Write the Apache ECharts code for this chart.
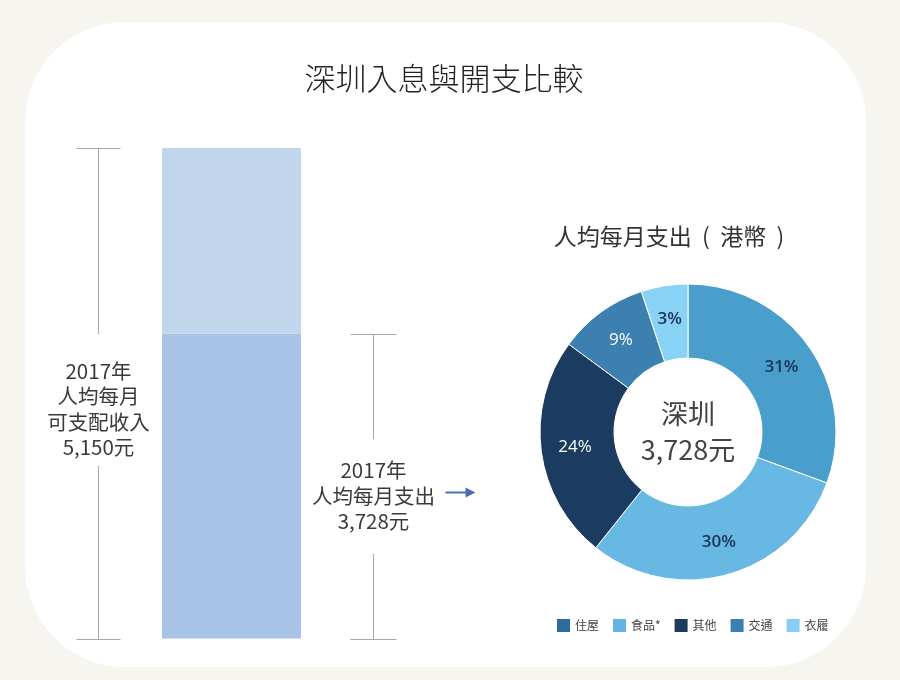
<!DOCTYPE html>
<html>
<head>
<meta charset="utf-8">
<script src="https://cdn.jsdelivr.net/npm/echarts@6/dist/echarts.min.js"></script>
<style>
html,body{margin:0;padding:0;background:#f7f5f0;}
#chart{width:900px;height:680px;}
</style>
</head>
<body>
<div id="chart"></div>
<script>
// ---------- data ----------
const barCategories = ['2017年'];
const monthlyIncome = [5150];        // 人均每月可支配收入
const monthlyExpenditure = [3728];   // 人均每月支出
const incomeLabelLines = ['2017年', '人均每月', '可支配收入'];
const expLabelLines = ['2017年', '人均每月支出'];

const pieNames = ['住屋', '食品*', '其他', '交通', '衣履'];
const pieShares = [30.6, 30.1, 24.4, 9.8, 5.1];        // slice sizes
const pieLabels = ['31%', '30%', '24%', '9%', '3%'];   // printed labels
const centerCity = '深圳';

const titleText = '深圳入息與開支比較';
const subTitleText = '人均每月支出  (  港幣  )';

// ---------- styles ----------
const pieColors = ['#4a9ecb', '#67b8e3', '#1b3b60', '#3b80b0', '#88d2f6'];
const legendColors = ['#2f6c9b', '#63b4e0', '#1b3a5c', '#3a80b0', '#87cef2'];
const pieLabelColors = ['#1b3358', '#1b3358', '#ffffff', '#ffffff', '#1b3358'];
const pieLabelWeights = [600, 600, 'normal', 'normal', 600];
const cjk = "'Noto Sans CJK TC', 'Noto Sans', sans-serif";
const axisMin = 1390;

const fmt = v => v.toLocaleString('en-US') + '元';
const remainder = monthlyIncome.map((v, i) => v - monthlyExpenditure[i]);

const bracketCfg = [
  { dx: -133.5, half: 22, textDy: 15, gapTop: 75, gapBot: 57,
    lines: incomeLabelLines.concat([fmt(monthlyIncome[0])]), arrow: false },
  { dx: 141.5, half: 23, textDy: 9, gapTop: 57, gapBot: 58,
    lines: expLabelLines.concat([fmt(monthlyExpenditure[0])]), arrow: true }
];

function renderBracket(params, api) {
  const cfg = bracketCfg[params.dataIndex];
  const top = api.coord([api.value(0), api.value(1)]);
  const base = api.coord([api.value(0), axisMin]);
  const x = Math.round(top[0] + cfg.dx) + 0.5;
  const y0 = Math.round(top[1]) + 0.5, y1 = Math.round(base[1]) + 0.5;
  const tc = (y0 + y1) / 2 + cfg.textDy;
  const ls = { stroke: '#a8a8a8', lineWidth: 1 };
  const children = [
    { type: 'line', shape: { x1: x - cfg.half, y1: y0, x2: x + cfg.half, y2: y0 }, style: ls },
    { type: 'line', shape: { x1: x, y1: y0, x2: x, y2: tc - cfg.gapTop }, style: ls },
    { type: 'line', shape: { x1: x, y1: tc + cfg.gapBot, x2: x, y2: y1 }, style: ls },
    { type: 'line', shape: { x1: x - cfg.half, y1: y1, x2: x + cfg.half, y2: y1 }, style: ls },
    { type: 'text', style: { text: cfg.lines.join('\n'), x: x, y: tc, align: 'center',
        verticalAlign: 'middle', fontSize: 20.5, lineHeight: 25.5, fontFamily: cjk, fill: '#3a3a3a' } }
  ];
  if (cfg.arrow) {
    const ay = Math.round(tc - 4) + 0.5;
    children.push({ type: 'line', shape: { x1: x + 72, y1: ay, x2: x + 94, y2: ay },
      style: { stroke: '#4a6db3', lineWidth: 2 } });
    children.push({ type: 'polygon', shape: { points: [[x + 92, ay - 5], [x + 102, ay], [x + 92, ay + 5]] },
      style: { fill: '#4a6db3' } });
  }
  return { type: 'group', children: children };
}

const chart = echarts.init(document.getElementById('chart'), null, { renderer: 'canvas' });
chart.setOption({
  backgroundColor: '#f7f5f0',
  animation: false,
  graphic: [
    { type: 'rect', z: -10, shape: { x: 25, y: 22, width: 841, height: 645, r: 100 },
      style: { fill: '#ffffff' } },
    { type: 'text', z: 10, style: { text: centerCity, x: 688, y: 414, align: 'center', verticalAlign: 'middle',
        fontSize: 27, fontFamily: cjk, fill: '#444' } },
    { type: 'text', z: 10, style: { text: fmt(monthlyExpenditure[0]), x: 688, y: 450, align: 'center',
        verticalAlign: 'middle', fontSize: 27, fontFamily: cjk, fill: '#444' } }
  ],
  title: [
    { text: titleText, left: 439, top: 58, textAlign: 'center',
      textStyle: { fontSize: 31, fontWeight: 300, color: '#222', fontFamily: cjk } },
    { text: subTitleText, left: 664, top: 220, textAlign: 'center',
      textStyle: { fontSize: 23, fontWeight: 'normal', color: '#333', fontFamily: cjk } }
  ],
  grid: { left: 162, width: 139, top: 148, height: 490.5 },
  xAxis: { type: 'category', data: barCategories, show: false },
  yAxis: { type: 'value', min: axisMin, max: monthlyIncome[0], show: false },
  legend: {
    left: 555, top: 617, padding: 0, itemWidth: 15, itemHeight: 15, itemGap: 12, icon: 'rect',
    textStyle: { fontSize: 12, color: '#444', fontFamily: cjk, padding: [0, 0, 0, -1] },
    data: pieNames.map((n, i) => ({ name: n, itemStyle: { color: legendColors[i] } }))
  },
  series: [
    { type: 'bar', stack: 'inc', barWidth: '100%', data: monthlyExpenditure,
      itemStyle: { color: '#a8c3e6' }, silent: true },
    { type: 'bar', stack: 'inc', barWidth: '100%', data: remainder,
      itemStyle: { color: '#c1d5ec' }, silent: true },
    { type: 'custom', coordinateSystem: 'cartesian2d', renderItem: renderBracket,
      data: [[0, monthlyIncome[0]], [0, monthlyExpenditure[0]]], silent: true },
    { type: 'pie', center: [688, 432], radius: [74, 148], startAngle: 90, clockwise: true,
      itemStyle: { borderColor: '#ffffff', borderWidth: 1 },
      label: { position: 'inside', fontSize: 17, fontFamily: "'Open Sans', sans-serif",
        formatter: p => pieLabels[p.dataIndex] },
      labelLine: { show: false },
      data: pieNames.map((n, i) => ({ name: n, value: pieShares[i],
        itemStyle: { color: pieColors[i] },
        label: { color: pieLabelColors[i], fontWeight: pieLabelWeights[i] } }))
    }
  ]
});
</script>
</body>
</html>
